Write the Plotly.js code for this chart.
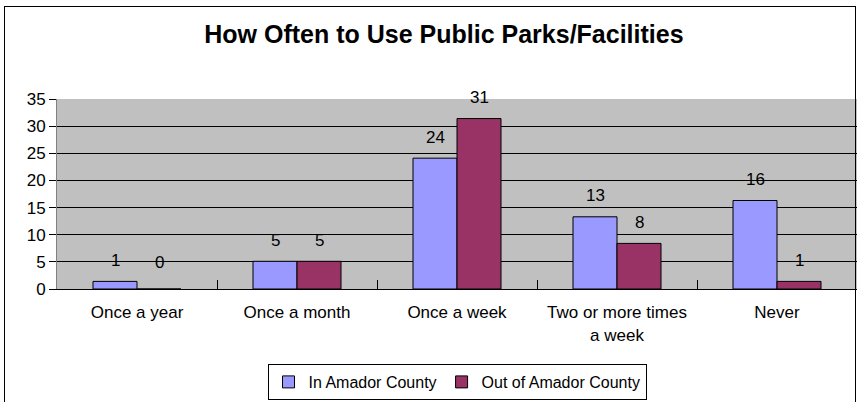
<!DOCTYPE html>
<html>
<head>
<meta charset="utf-8">
<script src="https://cdn.plot.ly/plotly-3.0.1.min.js"></script>
<style>
  html, body { margin: 0; padding: 0; background: #fff; }
  #wrap { position: relative; width: 862px; height: 402px; overflow: hidden; }
  #chart { width: 862px; height: 402px; }
  #frame { position: absolute; left: 4px; top: 6px; width: 852px; height: 430px;
           border: 1.5px solid #000; pointer-events: none; box-sizing: border-box; }
</style>
</head>
<body>
<div id="wrap">
  <div id="chart"></div>
  <div id="frame"></div>
</div>
<script>
const categories = ['Once a year', 'Once a month', 'Once a week', 'Two or more times<br>a week', 'Never'];
const inAmador = [1.4, 5.1, 24.1, 13.3, 16.3];
const outAmador = [0, 5.1, 31.4, 8.4, 1.4];
const inLabels = ['1', '5', '24', '13', '16'];
const outLabels = ['0', '5', '31', '8', '1'];
const yTicks = [0, 5, 10, 15, 20, 25, 30, 35];

const FONT = 'Liberation Sans, Arial';

const traces = [
  { type: 'bar', name: 'In Amador County', x: categories, y: inAmador,
    marker: { color: '#9999FF', line: { color: '#000', width: 1 } }, hoverinfo: 'none' },
  { type: 'bar', name: 'Out of Amador County', x: categories, y: outAmador,
    marker: { color: '#993366', line: { color: '#000', width: 1 } }, hoverinfo: 'none' }
];

const annotations = [];
categories.forEach((c, i) => {
  annotations.push({ x: c, y: inAmador[i], text: inLabels[i], showarrow: false,
    xshift: -22, yshift: 21, yanchor: 'middle', font: { family: FONT, size: 17, color: '#000' } });
  annotations.push({ x: c, y: outAmador[i], text: outLabels[i], showarrow: false,
    xshift: 22, yshift: outAmador[i] === 0 ? 27 : 21, yanchor: 'middle', font: { family: FONT, size: 17, color: '#000' } });
});

const layout = {
  width: 862, height: 402,
  margin: { l: 57, r: 5, t: 99, b: 113, autoexpand: false },
  paper_bgcolor: '#fff',
  plot_bgcolor: '#C0C0C0',
  font: { family: FONT, size: 17, color: '#000' },
  title: { text: '<b>How Often to Use Public Parks/Facilities</b>',
    font: { family: FONT, size: 25, color: '#000' },
    x: 0.515, xref: 'container', xanchor: 'center',
    y: 1 - 34 / 402, yref: 'container', yanchor: 'middle' },
  barmode: 'group', bargap: 0.45, bargroupgap: 0,
  showlegend: true,
  legend: { orientation: 'h', x: 457 / 862, xref: 'container', xanchor: 'center',
    y: 1 - 364 / 402, yref: 'container', yanchor: 'top',
    bordercolor: '#000', borderwidth: 1, bgcolor: '#fff',
    font: { family: FONT, size: 16, color: '#000' },
    itemwidth: 30, tracegroupgap: 0 },
  xaxis: { type: 'category', tickson: 'boundaries', ticks: 'inside', ticklen: 9,
    tickcolor: '#000', showline: true, linecolor: '#000', linewidth: 1,
    showgrid: false, fixedrange: true, automargin: false, ticklabelstandoff: 8,
    tickfont: { family: FONT, size: 17, color: '#000' } },
  yaxis: { range: [0, 35], tickvals: yTicks, ticks: 'outside', ticklen: 7, tickcolor: '#000',
    showgrid: true, gridcolor: '#000', gridwidth: 1, zeroline: false,
    showline: true, linecolor: '#808080', linewidth: 1, fixedrange: true, automargin: false,
    tickfont: { family: FONT, size: 17, color: '#000' } },
  annotations: annotations
};

Plotly.newPlot('chart', traces, layout, { displayModeBar: false, staticPlot: true });
</script>
</body>
</html>
